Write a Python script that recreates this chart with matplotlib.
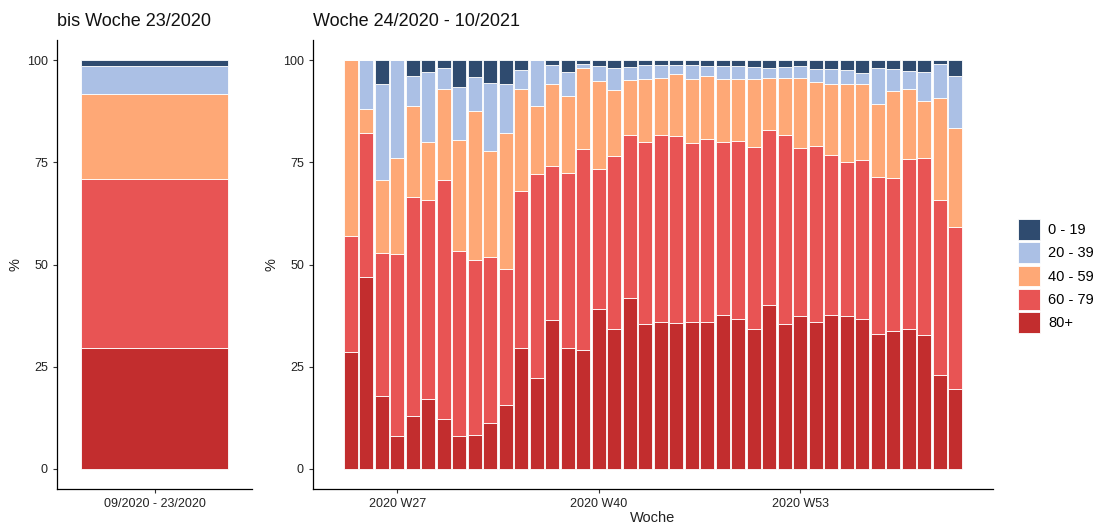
import matplotlib
matplotlib.use("Agg")
import matplotlib.pyplot as plt
from matplotlib.patches import Patch
import numpy as np

plt.rcParams['font.family'] = ['Liberation Sans', 'DejaVu Sans']

groups = ["0 - 19", "20 - 39", "40 - 59", "60 - 79", "80+"]
colors = ["#2f4b6f", "#abc0e5", "#fea876", "#e85454", "#c22d2e"]

# left panel (cumulative period)
left_label = ["09/2020 - 23/2020"]
left_vals = {"0 - 19": [1.4], "20 - 39": [6.8], "40 - 59": [20.9], "60 - 79": [41.3], "80+": [29.6]}

# right panel weekly
weeks = [f"2020 W{w}" for w in range(24, 54)] + [f"2021 W{w:02d}" for w in range(1, 11)]
a0 = [0, 0, 5.8, 0, 3.7, 2.9, 1.8, 6.4, 4.1, 5.6, 5.8, 2.4, 0, 1.1, 2.9, 1.0, 1.4, 1.9, 1.5, 1.2,
      1.2, 1.2, 1.2, 1.4, 1.4, 1.3, 1.6, 1.8, 1.5, 1.3, 2.2, 2.0, 2.3, 3.2, 1.8, 2.0, 2.5, 2.8, 0.8, 3.7]
a20 = [0, 11.8, 23.6, 23.8, 7.4, 17.1, 5.1, 13.1, 8.2, 16.7, 11.9, 4.5, 11.1, 4.8, 5.8, 0.9, 3.6, 5.4, 3.2, 3.3,
       3.0, 2.2, 3.4, 2.5, 3.1, 3.3, 2.9, 2.6, 2.7, 3.1, 3.1, 3.9, 3.6, 2.6, 8.9, 5.5, 4.4, 7.1, 8.5, 12.8]
a40 = [42.9, 5.9, 17.7, 23.6, 22.3, 14.3, 22.5, 27.3, 36.7, 25.9, 33.4, 25.0, 16.7, 19.9, 19.0, 19.9, 21.7, 16.2, 13.5, 15.4,
       14.1, 15.0, 15.7, 15.3, 15.4, 15.2, 16.8, 12.6, 14.1, 17.1, 15.6, 17.2, 18.9, 18.5, 17.8, 21.2, 17.3, 14.1, 24.8, 24.2]
a60 = [28.5, 35.3, 35.2, 44.6, 53.6, 48.6, 58.5, 45.1, 42.8, 40.7, 33.2, 38.6, 50.0, 37.7, 42.8, 49.2, 34.1, 42.2, 40.0, 44.6,
       45.7, 46.0, 43.7, 45.0, 42.4, 43.5, 44.4, 42.8, 46.2, 41.0, 43.1, 39.2, 37.7, 39.0, 38.6, 37.6, 41.5, 43.3, 43.0, 39.8]
a80 = [28.6, 47.0, 17.7, 8.0, 13.0, 17.1, 12.1, 8.1, 8.2, 11.1, 15.7, 29.5, 22.2, 36.5, 29.5, 29.0, 39.2, 34.3, 41.8, 35.5,
       36.0, 35.6, 36.0, 35.8, 37.7, 36.7, 34.3, 40.2, 35.5, 37.5, 36.0, 37.7, 37.5, 36.7, 32.9, 33.7, 34.3, 32.7, 22.9, 19.5]
right_vals = {"0 - 19": a0, "20 - 39": a20, "40 - 59": a40, "60 - 79": a60, "80+": a80}
tick_weeks = ["2020 W27", "2020 W40", "2020 W53"]
y_ticks = [0, 25, 50, 75, 100]

fig = plt.figure(figsize=(10.99, 5.24), dpi=100)
axL = fig.add_axes([57/1099, 1-489/524, (252-57)/1099, (489-40)/524])
axR = fig.add_axes([313/1099, 1-489/524, (993-313)/1099, (489-40)/524])


def stack(ax, x, vals):
    bottom = np.zeros(len(x))
    for g, c in zip(groups[::-1], colors[::-1]):
        v = np.array(vals[g], dtype=float)
        ax.bar(x, v, bottom=bottom, width=0.9, color=c, edgecolor="white", linewidth=0.6)
        bottom += v


def style(ax):
    for s in ["top", "right"]:
        ax.spines[s].set_visible(False)
    for s in ["left", "bottom"]:
        ax.spines[s].set_linewidth(0.9)
        ax.spines[s].set_color("black")
    ax.set_ylim(-5, 105)
    ax.set_yticks(y_ticks)
    ax.tick_params(axis="both", labelsize=9, length=3, color="#333333", labelcolor="#222222", width=0.8)
    ax.set_ylabel("%", fontsize=10.5, color="#222222", labelpad=3)


xl = np.arange(len(left_label))
stack(axL, xl, left_vals)
axL.set_xlim(-0.6, 0.6)
axL.set_xticks(xl)
axL.set_xticklabels(left_label)
style(axL)
axL.set_title("bis Woche 23/2020", loc="left", fontsize=13, color="#111111", pad=10)

xr = np.arange(len(weeks))
stack(axR, xr, right_vals)
axR.set_xlim(-2.45, 41.45)
axR.set_xticks([weeks.index(w) for w in tick_weeks])
axR.set_xticklabels(tick_weeks)
style(axR)
axR.set_xlabel("Woche", fontsize=10.5, color="#222222", labelpad=0.5)
axR.set_title("Woche 24/2020 - 10/2021", loc="left", fontsize=13, color="#111111", pad=10)

handles = [Patch(facecolor=c, edgecolor="white", linewidth=0.6) for c in colors]
fig.legend(handles, groups, loc="center left", bbox_to_anchor=(1018/1099, 1-276/524),
           frameon=False, fontsize=10.5, handlelength=1.48, handleheight=1.83,
           labelspacing=0.16, handletextpad=0.6, borderaxespad=0, borderpad=0)

fig.savefig("out.png", dpi=100)
